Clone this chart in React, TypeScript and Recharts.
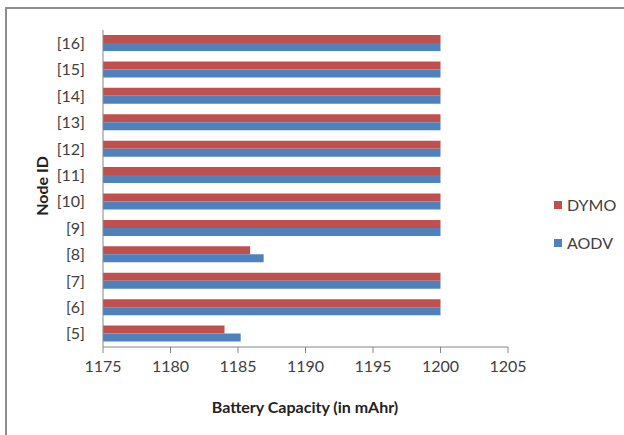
import React from 'react';
import { BarChart, Bar, XAxis, YAxis } from 'recharts';

const nodes = ['[16]', '[15]', '[14]', '[13]', '[12]', '[11]', '[10]', '[9]', '[8]', '[7]', '[6]', '[5]'];
const dymo = [1200, 1200, 1200, 1200, 1200, 1200, 1200, 1200, 1185.9, 1200, 1200, 1184];
const aodv = [1200, 1200, 1200, 1200, 1200, 1200, 1200, 1200, 1186.9, 1200, 1200, 1185.2];
const xTicks = [1175, 1180, 1185, 1190, 1195, 1200, 1205];

const data = nodes.map((node, i) => ({ node, DYMO: dymo[i], AODV: aodv[i] }));

const FONT = 'Lato, "Open Sans", sans-serif';
const RED = '#C0504D';
const BLUE = '#4F81BD';
const AXIS = '#868686';

const App: React.FC = () => {
  return (
    <div style={{ position: 'absolute', left: 0, top: 0, width: 624, height: 435, background: '#fff', overflow: 'hidden', fontFamily: FONT }}>
      <div style={{ position: 'absolute', left: 5, top: 7, width: 640, height: 450, borderLeft: '2px solid #8c8c8c', borderTop: '2px solid #8c8c8c' }} />
      <BarChart
        layout="vertical"
        width={624}
        height={435}
        data={data}
        margin={{ top: 30, right: 116, left: 0, bottom: 58 }}
        barGap={0}
        barSize={8}
        style={{ position: 'absolute', left: 0, top: 0 }}
      >
        <XAxis
          type="number"
          domain={[1175, 1205]}
          ticks={xTicks}
          interval={0}
          height={30}
          stroke={AXIS}
          tickSize={6}
          tick={{ fill: '#404040', fontSize: 16, fontFamily: FONT }}
          tickMargin={8}
        />
        <YAxis
          type="category"
          dataKey="node"
          width={103}
          stroke={AXIS}
          tickLine={false}
          tick={{ fill: '#404040', fontSize: 16, fontFamily: FONT }}
          tickMargin={12}
        />
        <Bar dataKey="DYMO" fill={RED} isAnimationActive={false} />
        <Bar dataKey="AODV" fill={BLUE} isAnimationActive={false} />
      </BarChart>
      <div style={{ position: 'absolute', left: 0, width: 610, top: 397, textAlign: 'center', fontWeight: 'bold', fontSize: 16, color: '#222' }}>
        Battery Capacity (in mAhr)
      </div>
      <div style={{ position: 'absolute', left: 41, top: 186, transform: 'translate(-50%, -50%) rotate(-90deg)', fontWeight: 'bold', fontSize: 16, color: '#222', whiteSpace: 'nowrap' }}>
        Node ID
      </div>
      <div style={{ position: 'absolute', left: 554, top: 195, fontSize: 16, color: '#404040', lineHeight: '20px' }}>
        <div style={{ display: 'flex', alignItems: 'center' }}>
          <span style={{ width: 8, height: 8, background: RED, marginRight: 5, display: 'inline-block' }} />DYMO
        </div>
        <div style={{ display: 'flex', alignItems: 'center', marginTop: 18 }}>
          <span style={{ width: 8, height: 8, background: BLUE, marginRight: 5, display: 'inline-block' }} />AODV
        </div>
      </div>
    </div>
  );
};

export default App;
